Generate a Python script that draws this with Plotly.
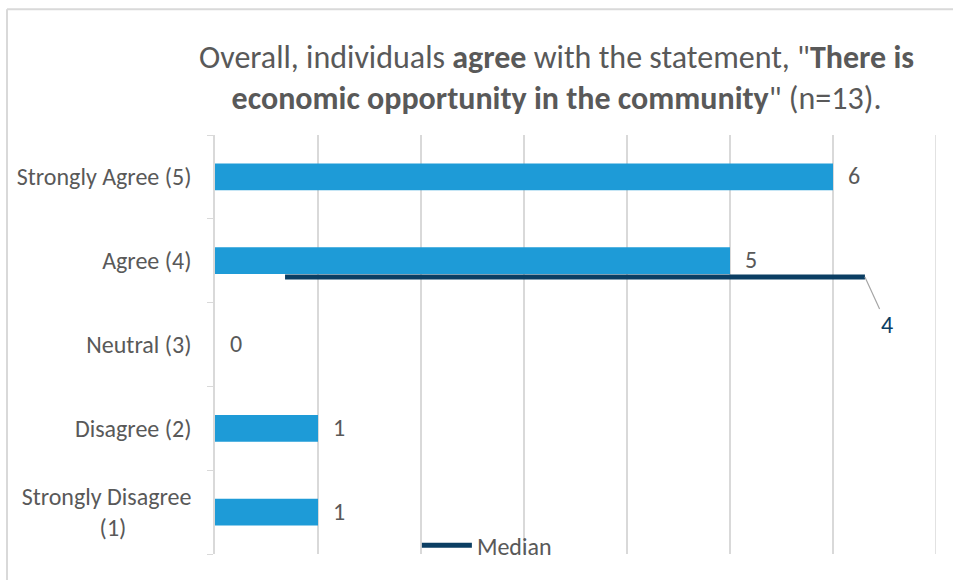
import plotly.graph_objects as go

categories = ["Strongly Disagree (1)", "Disagree (2)", "Neutral (3)", "Agree (4)", "Strongly Agree (5)"]
tick_labels = ["Strongly Disagree<br>(1)" + "&nbsp;" * 12, "Disagree (2)", "Neutral (3)", "Agree (4)", "Strongly Agree (5)"]
counts = [1, 1, 0, 5, 6]
median_value = 4
median_x = [0.68, 6.31]
x_max = 7

FONT = "Carlito, Calibri, 'Open Sans', sans-serif"
GREY = "#595959"
BAR = "#1E9BD7"
MED = "#0B3E63"

fig = go.Figure()
fig.add_trace(go.Bar(
    y=categories, x=counts, orientation="h",
    marker=dict(color=BAR, line=dict(width=0)),
    width=0.32, showlegend=False, name="Count",
))
fig.add_trace(go.Scatter(
    x=median_x, y=[median_value] * len(median_x), yaxis="y2",
    mode="lines", line=dict(color=MED, width=5),
    name="Median", showlegend=True,
))

for cat, c in zip(categories, counts):
    fig.add_annotation(x=c, y=cat, xref="x", yref="y", text=str(c), showarrow=False,
                       xanchor="left", xshift=13, yshift=1,
                       font=dict(size=24, color=GREY, family=FONT))

fig.add_annotation(
    x=median_x[-1], y=median_value, xref="x", yref="y2",
    text=str(median_value), showarrow=True, arrowhead=0,
    arrowwidth=1.2, arrowcolor="#A6A6A6", ax=22, ay=48,
    font=dict(size=24, color=MED, family=FONT),
)

fig.update_layout(
    width=953, height=580,
    margin=dict(l=215, r=17, t=135, b=23),
    paper_bgcolor="white", plot_bgcolor="white",
    font=dict(family=FONT, color=GREY, size=24),
    title=dict(
        text='Overall, individuals <b>agree</b> with the statement, "<b>There is</b><br><b>economic opportunity in the community</b>" (n=13).',
        x=0.584, xanchor="center", y=0.883, yanchor="middle",
        font=dict(size=32, color=GREY, family=FONT),
    ),
    bargap=0.68,
    xaxis=dict(range=[0, x_max], showgrid=True, gridcolor="#D9D9D9", gridwidth=1.5,
               showticklabels=False, zeroline=False, showline=False, ticks=""),
    yaxis=dict(type="category", categoryorder="array", categoryarray=categories,
               tickmode="array", tickvals=categories, ticktext=tick_labels,
               tickson="boundaries", ticks="outside", ticklen=6, tickcolor="#D9D9D9",
               showline=True, linecolor="#D9D9D9", linewidth=1.5, showgrid=False,
               tickfont=dict(size=24, color=GREY, family=FONT), ticklabelstandoff=17),
    yaxis2=dict(overlaying="y", range=[0, 6.05], visible=False),
    legend=dict(orientation="h", x=0.28, y=0.02, xanchor="left", yanchor="middle",
                bgcolor="rgba(0,0,0,0)", font=dict(size=24, color=GREY, family=FONT),
                itemwidth=50),
    shapes=[
        dict(type="line", xref="x", yref="paper", x0=x_max, x1=x_max, y0=0, y1=1,
             line=dict(color="#D9D9D9", width=1.5), layer="below"),
        dict(type="line", xref="paper", yref="paper", x0=-0.2885, x1=-0.2885, y0=-0.1, y1=1.3,
             line=dict(color="#D9D9D9", width=2)),
        dict(type="line", xref="paper", yref="paper", x0=-0.2885, x1=1.1, y0=1.3, y1=1.3,
             line=dict(color="#D9D9D9", width=2)),
    ],
)

fig.write_html("out.html", config={"displayModeBar": False},
               post_script="document.body.style.margin='0';document.body.style.overflow='hidden';")
